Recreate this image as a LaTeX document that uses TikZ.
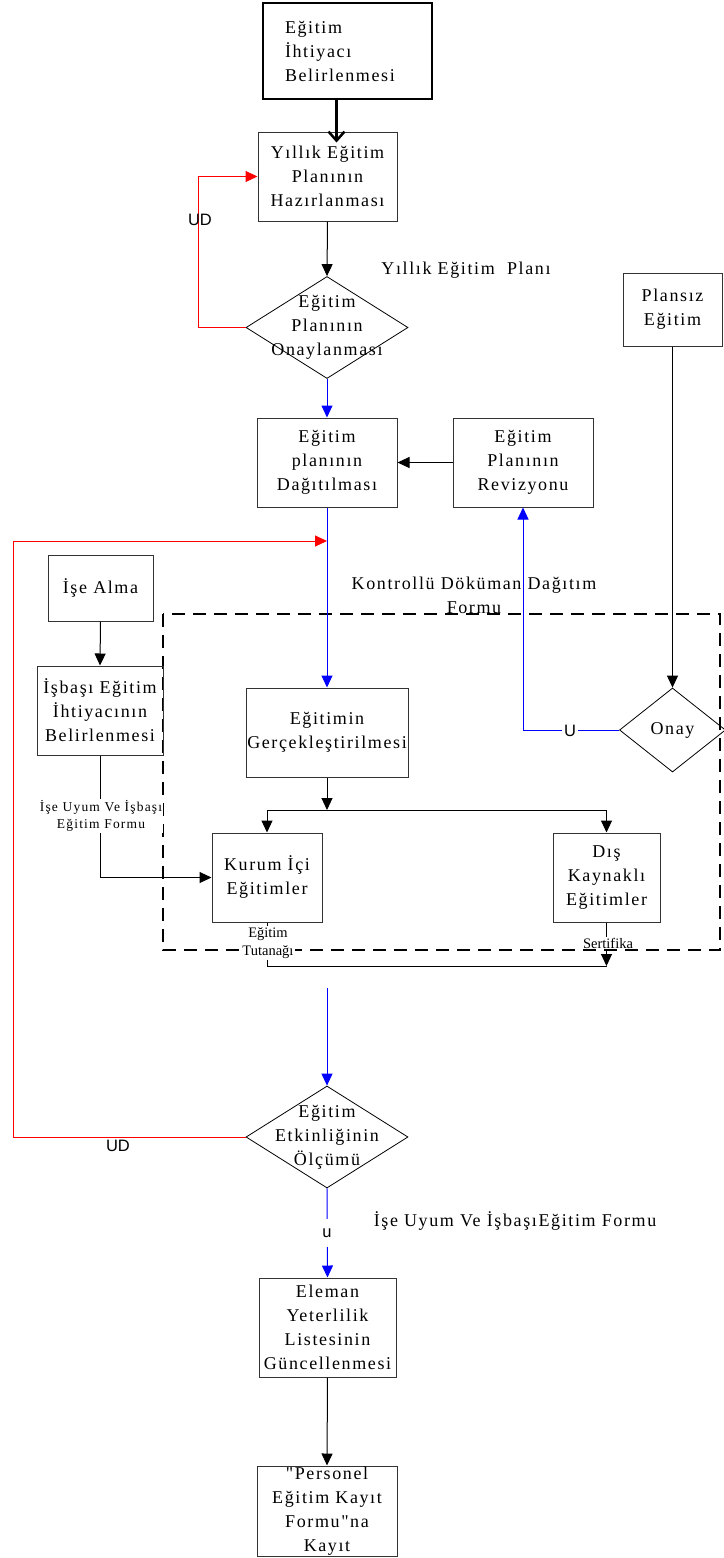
\documentclass[tikz,border=0pt]{standalone}
\usepackage{fontspec}
\usetikzlibrary{calc}
\usetikzlibrary{shapes.geometric,arrows.meta}
\usetikzlibrary{positioning}
\newfontfamily\kfont[LetterSpace=9]{Liberation Serif}
\newfontfamily\incefont{Liberation Serif}
\newfontfamily\hfont{Liberation Sans}
\newcommand{\kyazi}{\kfont\fontsize{18}{24}\selectfont}
\newcommand{\kucuk}{\kfont\fontsize{13.5}{17}\selectfont}
\newcommand{\ince}{\incefont\fontsize{14.5}{18}\selectfont}
\newcommand{\harf}{\hfont\fontsize{16.5}{18}\selectfont}
\tikzstyle{kt}=[rectangle, draw=black!80, line width=1pt, align=center, inner sep=0pt, font=\kyazi]
\tikzstyle{kalinkt}=[kt, draw=black, line width=2.5pt]
\tikzstyle{kr}=[diamond, draw, line width=0.8pt, inner sep=0pt]
\tikzstyle{yazi}=[font=\kyazi, align=center]
\tikzstyle{etiket}=[font=\harf]
\tikzstyle{ok}=[-{Triangle[length=12pt,width=11pt]}, line width=1pt]
\tikzstyle{mavi}=[ok, color=blue]
\tikzstyle{kirmizi}=[ok, color=red]

\begin{document}
\begin{tikzpicture}[x=1pt, y=-1pt]
\useasboundingbox (0,0) rectangle (723,1558);
%\draw[help lines] (0,0) grid[step=50] (723,1558);
\draw[line width=2.5pt, dash pattern=on 13pt off 8pt] (163,614) rectangle (720,950);

\node[kalinkt, minimum width=169, minimum height=96, text width=125pt, align=left] (ihtiyac) at (347.5,51) {Eğitim\\İhtiyacı\\Belirlenmesi};
\node[kt, minimum width=139, minimum height=89] (yillik) at (327.5,176.5) {Yıllık Eğitim\\Planının\\Hazırlanması};
\node[kr, minimum width=162, minimum height=102, label={[yazi]center:Eğitim\\Planının\\Onaylanması}] (onay1) at (327,327.5) {};
\node[yazi] (yep) at (466,270) {Yıllık Eğitim\ \ Planı};
\node[kt, minimum width=140, minimum height=89] (dagit) at (327,462.5) {Eğitim\\planının\\Dağıtılması};
\node[kt, minimum width=140, minimum height=89] (reviz) at (523,462.5) {Eğitim\\Planının\\Revizyonu};
\node[kt, minimum width=99, minimum height=73] (plansiz) at (672.5,309.5) {Plansız\\Eğitim};
\node[yazi] (kddf) at (474,595) {Kontrollü Döküman Dağıtım\\Formu};
\node[kt, minimum width=105, minimum height=66] (isealma) at (100.5,588) {İşe Alma};
\node[kt, minimum width=126, minimum height=89] (isbasi) at (100,710.5) {İşbaşı Eğitim\\İhtiyacının\\Belirlenmesi};
\node[kt, minimum width=162, minimum height=89] (gercek) at (327,732.5) {Eğitimin\\Gerçekleştirilmesi};
\node[kr, minimum width=106, minimum height=84, label={[yazi]center:Onay}] (onay2) at (672.5,730) {};
\node[kt, minimum width=110, minimum height=89] (kurum) at (267,877.5) {Kurum İçi\\Eğitimler};
\node[kt, minimum width=107, minimum height=89] (dis) at (606.5,877.5) {Dış\\Kaynaklı\\Eğitimler};
\node[kr, minimum width=162, minimum height=102, label={[yazi]center:Eğitim\\Etkinliğinin\\Ölçümü}] (olcum) at (327,1137) {};
\node[yazi] (iuf2) at (515,1221) {İşe Uyum Ve İşbaşıEğitim Formu};
\node[kt, minimum width=137, minimum height=99] (eleman) at (327.5,1327.5) {Eleman\\Yeterlilik\\Listesinin\\Güncellenmesi};
\node[kt, minimum width=140, minimum height=90] (personel) at (327,1511) {"Personel\\Eğitim Kayıt\\Formu"na\\Kayıt};

\coordinate (sol) at (13,541);
\coordinate (hedef) at (327,541);
\coordinate (ayrim) at (327,810);
\coordinate (birlesim) at (606.5,966);
\coordinate (mbas) at (327,988);

\draw[line width=2.5pt, -{Straight Barb[length=9pt,width=16pt]}] ([xshift=-11pt]ihtiyac.south) -- ([xshift=9pt,yshift=-11pt]yillik.north);
\draw[ok] (yillik.south) -- (onay1.north);
\draw[kirmizi] (onay1.west) -- ++(-47,0) |- (yillik.west);
\node[etiket] (ud1) at (200,220) {UD};
\draw[mavi] (onay1.south) -- (dagit.north);
\draw[ok] (reviz.west) -- (dagit.east);
\draw[ok] (plansiz.south) -- (onay2.north);
\draw[mavi] (onay2.west) -| (reviz.south);
\node[etiket, fill=white, inner sep=2pt] (u1) at (570,731) {U};
\draw[mavi] (dagit.south) -- (gercek.north);
\draw[kirmizi] (olcum.west) -| (sol) -- (hedef);
\node[etiket, fill=white, inner xsep=12pt, inner ysep=1pt] (ud2) at (118,1146) {UD};
\draw[ok] (isealma.south) -- (isbasi.north);
\draw[ok] (isbasi.south) |- (kurum.west);
\node[font=\kucuk, fill=white, align=center, inner sep=1pt] (iuf1) at (101,816) {İşe Uyum Ve İşbaşı\\Eğitim Formu};
\draw[ok] (gercek.south) -- (ayrim);
\draw[ok] (ayrim) -| (kurum.north);
\draw[ok] (ayrim) -| (dis.north);
\draw[line width=1pt] (kurum.south) |- (birlesim);
\draw[ok] (dis.south) -- (birlesim);
\node[font=\ince, fill=white, align=center, inner sep=1pt] (tut) at (268,943) {Eğitim\\Tutanağı};
\node[font=\ince, fill=white, inner sep=1pt] (sert) at (608,943) {Sertifika};
\draw[mavi] (mbas) -- (olcum.north);
\draw[mavi] (olcum.south) -- (eleman.north);
\node[etiket, fill=white, inner sep=1pt, minimum height=28pt] (u2) at (327,1233) {u};
\draw[ok] (eleman.south) -- (personel.north);
\end{tikzpicture}
\end{document}
